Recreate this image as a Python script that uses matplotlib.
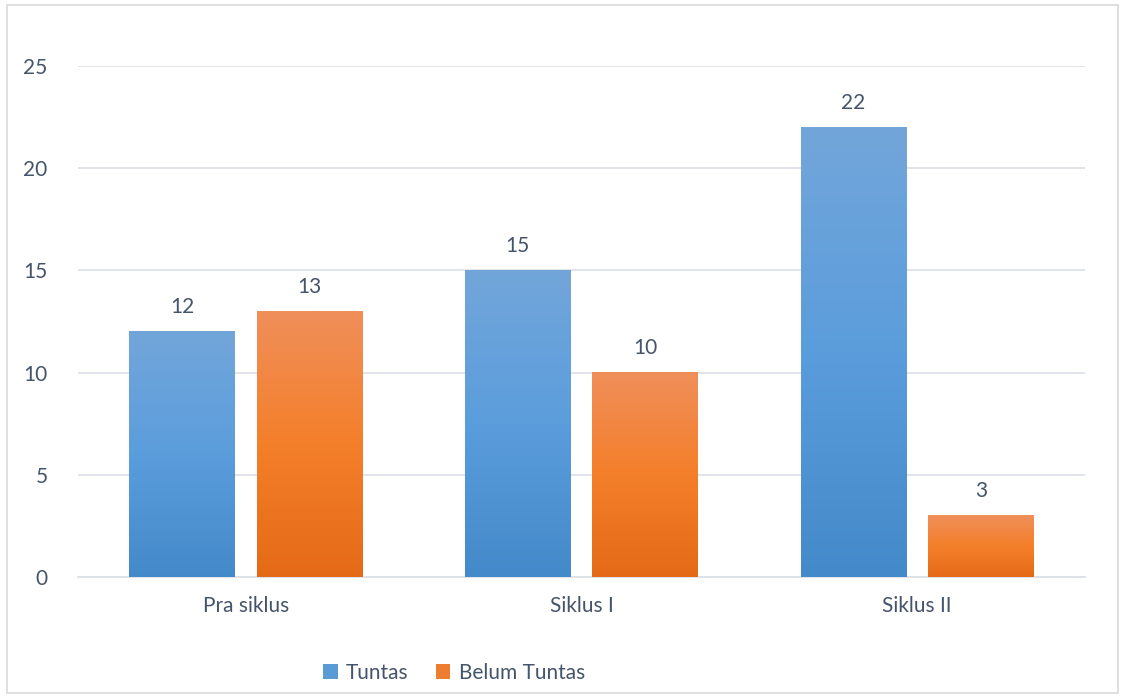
import matplotlib
matplotlib.use("Agg")
import matplotlib.pyplot as plt
import numpy as np
from matplotlib.colors import LinearSegmentedColormap
from matplotlib.patches import Rectangle, Patch

categories = ["Pra siklus", "Siklus I", "Siklus II"]
tuntas = [12, 15, 22]
belum_tuntas = [13, 10, 3]
series_names = ["Tuntas", "Belum Tuntas"]
yticks = [0, 5, 10, 15, 20, 25]

plt.rcParams['font.family'] = ['Lato', 'DejaVu Sans']
text_color = "#44546A"
fs = 15

fig = plt.figure(figsize=(11.24, 6.98), dpi=100)
fig.patches.append(Rectangle((7/1124, 5/698), 1111/1124, 688/698, transform=fig.transFigure,
                             fill=False, edgecolor="#D9D9D9", linewidth=1.2))
ax = fig.add_axes([78/1124, 1-577/698, 1007/1124, (577-66)/698])

x = np.arange(len(categories))
w = 0.315
off = 0.19
blue_cmap = LinearSegmentedColormap.from_list("b", ["#4489C9", "#5B9DDC", "#72A6DA"])
orange_cmap = LinearSegmentedColormap.from_list("o", ["#E46A17", "#F47F2A", "#F08F5A"])

grad = np.linspace(0, 1, 256).reshape(-1, 1)
for vals, pos, cmap in [(tuntas, x - off, blue_cmap), (belum_tuntas, x + off, orange_cmap)]:
    bars = ax.bar(pos, vals, width=w, color="none", edgecolor="none", zorder=3)
    for b, v in zip(bars, vals):
        bx, bw, bh = b.get_x(), b.get_width(), b.get_height()
        ax.imshow(grad, extent=[bx, bx + bw, 0, bh], origin="lower", cmap=cmap,
                  aspect="auto", zorder=3)
        ax.text(bx + bw / 2, bh + 0.7, str(v), ha="center", va="bottom",
                fontsize=fs, color=text_color, zorder=4)

ax.set_xlim(-0.5, 2.5)
ax.set_ylim(0, 25)
ax.set_yticks(yticks)
ax.set_yticklabels([str(t) for t in yticks])
ax.set_xticks(x)
ax.set_xticklabels(categories)
ax.grid(axis="y", color="#DDE1E8", linewidth=1.3, zorder=0)
ax.set_axisbelow(True)
for s in ["top", "right", "left"]:
    ax.spines[s].set_visible(False)
ax.spines["bottom"].set_color("#DDE1E8")
ax.spines["bottom"].set_linewidth(1.3)
ax.tick_params(axis="both", length=0, labelsize=fs, labelcolor=text_color)
ax.tick_params(axis="y", pad=22)
ax.tick_params(axis="x", pad=14)

handles = [Patch(facecolor="#5B9BD5"), Patch(facecolor="#ED7D31")]
fig.legend(handles, series_names, loc="center", bbox_to_anchor=(454/1124, 1-673/698),
           ncol=2, frameon=False, fontsize=fs, labelcolor=text_color,
           handlelength=0.7, handleheight=0.7, handletextpad=0.4, columnspacing=1.3)

fig.savefig("out.png", dpi=100, facecolor="white")
